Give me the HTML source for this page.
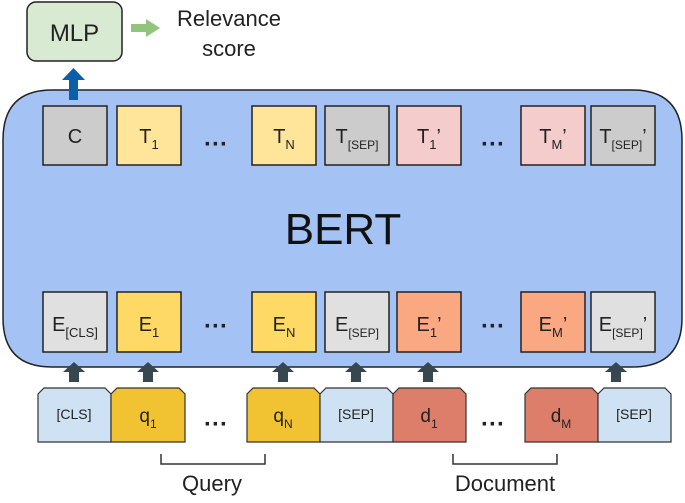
<!DOCTYPE html>
<html><head><style>
body{margin:0;background:#fff;}
svg text{font-family:"Liberation Sans",sans-serif;}
</style></head><body>
<svg width="685" height="498" viewBox="0 0 685 498" xmlns="http://www.w3.org/2000/svg">
<path d="M52,90 H632 Q682,90 682,140 V318 Q682,367 632,367 H52 Q3,367 3,318 V140 Q3,90 52,90 Z" fill="#a4c2f4" stroke="#222" stroke-width="1.5"/>
<rect x="27" y="2" width="95" height="59" rx="9" fill="#d9ead3" stroke="#222" stroke-width="1.5"/>
<text x="74.5" y="41" font-size="24" text-anchor="middle" fill="#222">MLP</text>
<path d="M131,24 H146 V19 L160,28 L146,37 V32 H131 Z" fill="#93c47d"/>
<text x="229" y="26" font-size="22" text-anchor="middle" fill="#222">Relevance</text>
<text x="229" y="56" font-size="22" text-anchor="middle" fill="#222">score</text>
<path d="M69,100 V80 H62 L73.5,68 L85,80 H78 V100 Z" fill="#0b5ea8"/>
<text x="343" y="244" font-size="44" text-anchor="middle" fill="#111">BERT</text>
<g stroke="#222" stroke-width="1.5">
<rect x="43" y="106" width="64" height="59" fill="#cccccc"/>
<rect x="117" y="106" width="64" height="59" fill="#ffe599"/>
<rect x="252" y="106" width="64" height="59" fill="#ffe599"/>
<rect x="325" y="106" width="64" height="59" fill="#cccccc"/>
<rect x="397" y="106" width="64" height="59" fill="#f4cccc"/>
<rect x="521" y="106" width="64" height="59" fill="#f4cccc"/>
<rect x="591" y="106" width="64" height="59" fill="#cccccc"/>
<rect x="43" y="292" width="64" height="60" fill="#e0e0e0"/>
<rect x="117" y="292" width="64" height="60" fill="#ffd966"/>
<rect x="252" y="292" width="64" height="60" fill="#ffd966"/>
<rect x="325" y="292" width="64" height="60" fill="#e0e0e0"/>
<rect x="397" y="292" width="64" height="60" fill="#f9a882"/>
<rect x="521" y="292" width="64" height="60" fill="#f9a882"/>
<rect x="591" y="292" width="64" height="60" fill="#e0e0e0"/>
</g>
<g font-size="20" fill="#222" text-anchor="middle">
<text x="75" y="143">C</text>
<text x="149" y="143">T<tspan font-size="13" dy="6">1</tspan></text>
<text x="284" y="143">T<tspan font-size="13" dy="6">N</tspan></text>
<text x="357" y="143">T<tspan font-size="12" dy="6">[SEP]</tspan></text>
<text x="429" y="143">T<tspan font-size="13" dy="6">1</tspan><tspan dy="-6">’</tspan></text>
<text x="553" y="143">T<tspan font-size="13" dy="6">M</tspan><tspan dy="-6">’</tspan></text>
<text x="623" y="143">T<tspan font-size="12" dy="6">[SEP]</tspan><tspan dy="-6">’</tspan></text>
<text x="75" y="331">E<tspan font-size="13" dy="6">[CLS]</tspan></text>
<text x="149" y="331">E<tspan font-size="13" dy="6">1</tspan></text>
<text x="284" y="331">E<tspan font-size="13" dy="6">N</tspan></text>
<text x="357" y="331">E<tspan font-size="12" dy="6">[SEP]</tspan></text>
<text x="429" y="331">E<tspan font-size="13" dy="6">1</tspan><tspan dy="-6">’</tspan></text>
<text x="553" y="331">E<tspan font-size="13" dy="6">M</tspan><tspan dy="-6">’</tspan></text>
<text x="623" y="331">E<tspan font-size="12" dy="6">[SEP]</tspan><tspan dy="-6">’</tspan></text>
</g>
<g font-size="24" font-weight="bold" fill="#222" text-anchor="middle">
<text x="216" y="152">···</text><text x="493" y="152">···</text>
<text x="216" y="334">···</text><text x="493" y="334">···</text>
<text x="216" y="432">···</text><text x="493" y="432">···</text>
</g>
<g fill="#37474f">
<path d="M69,382 V372 H63 L74,362 L85,372 H79 V382 Z"/>
<path d="M143,382 V372 H137 L148,362 L159,372 H153 V382 Z"/>
<path d="M278,382 V372 H272 L283,362 L294,372 H288 V382 Z"/>
<path d="M351,382 V372 H345 L356,362 L367,372 H361 V382 Z"/>
<path d="M423,382 V372 H417 L428,362 L439,372 H433 V382 Z"/>
<path d="M611,382 V372 H605 L616,362 L627,372 H621 V382 Z"/>
</g>
<g stroke="#333" stroke-width="1.2">
<path d="M38,442 V394 L44,388 H105 L111,394 V442 Z" fill="#cfe2f3"/>
<path d="M111,442 V394 L117,388 H179 L185,394 V442 Z" fill="#f1c232"/>
<path d="M247,442 V394 L253,388 H314 L320,394 V442 Z" fill="#f1c232"/>
<path d="M320,442 V394 L326,388 H387 L393,394 V442 Z" fill="#cfe2f3"/>
<path d="M393,442 V394 L399,388 H460 L466,394 V442 Z" fill="#dd7e6b"/>
<path d="M525,442 V394 L531,388 H592 L598,394 V442 Z" fill="#dd7e6b"/>
<path d="M598,442 V394 L604,388 H665 L671,394 V442 Z" fill="#cfe2f3"/>
</g>
<g fill="#222" text-anchor="middle">
<text x="74" y="419" font-size="14">[CLS]</text>
<text x="148" y="422" font-size="19">q<tspan font-size="12" dy="6">1</tspan></text>
<text x="283" y="422" font-size="19">q<tspan font-size="12" dy="6">N</tspan></text>
<text x="356" y="419" font-size="14">[SEP]</text>
<text x="429" y="422" font-size="19">d<tspan font-size="12" dy="6">1</tspan></text>
<text x="561" y="422" font-size="19">d<tspan font-size="12" dy="6">M</tspan></text>
<text x="634" y="419" font-size="14">[SEP]</text>
</g>
<g stroke="#333" stroke-width="1.5" fill="none">
<path d="M161,454 V464 H265 V454"/>
<path d="M453,454 V464 H557 V454"/>
</g>
<text x="212" y="491" font-size="22" text-anchor="middle" fill="#222">Query</text>
<text x="505" y="491" font-size="22" text-anchor="middle" fill="#222">Document</text>
</svg>
</body></html>
